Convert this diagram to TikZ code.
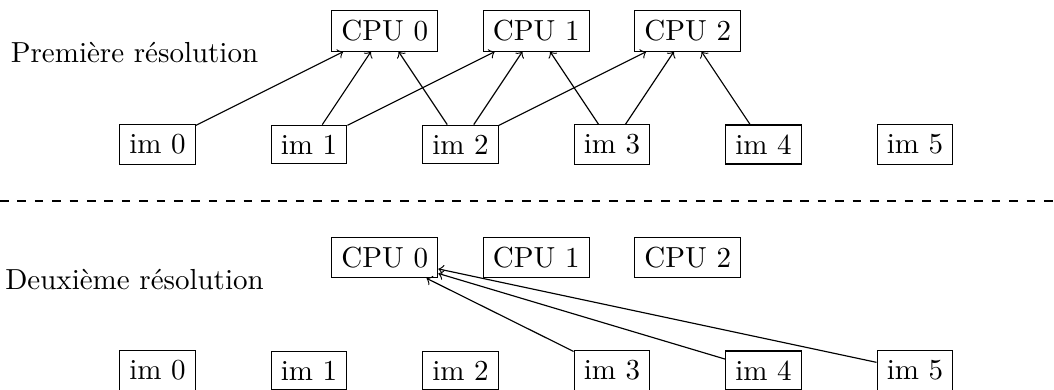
\documentclass[tikz,border=0pt]{standalone}
\usepackage{tikz}
\usetikzlibrary{positioning}

\begin{document}
\begin{tikzpicture}[
  x=1.836cm, y=1.836cm,
  cpu/.style={rectangle, draw},
  img/.style={rectangle, draw},
  link/.style={->},
]
  \useasboundingbox (-1.04,0.954) rectangle (5.918,-1.614);

  % premiere resolution
  \node (lab1) at (-0.152,0.61) {Première résolution};
  \foreach \i in {0,...,5}
    \node[img] (a\i) at (\i,0) {im \i};
  \foreach \c in {0,1,2}
    \node[cpu] (p\c) at (\c+1.5,0.75) {CPU \c};
  \foreach \c/\j in {0/0,0/1,0/2,1/1,1/2,1/3,2/2,2/3,2/4}
    \draw[link] (a\j) -- (p\c);

  % separation
  \coordinate (sepl) at (-1.04,-0.373);
  \coordinate (sepr) at (5.918,-0.373);
  \draw[dashed] (sepl) -- (sepr);

  % deuxieme resolution
  \node (lab2) at (-0.152,-0.894) {Deuxième résolution};
  \foreach \i in {0,...,5}
    \node[img] (b\i) at (\i,-1.492) {im \i};
  \foreach \c in {0,1,2}
    \node[cpu] (q\c) at (\c+1.5,-0.746) {CPU \c};
  \foreach \j in {3,4,5}
    \draw[link] (b\j) -- (q0);
\end{tikzpicture}
\end{document}
